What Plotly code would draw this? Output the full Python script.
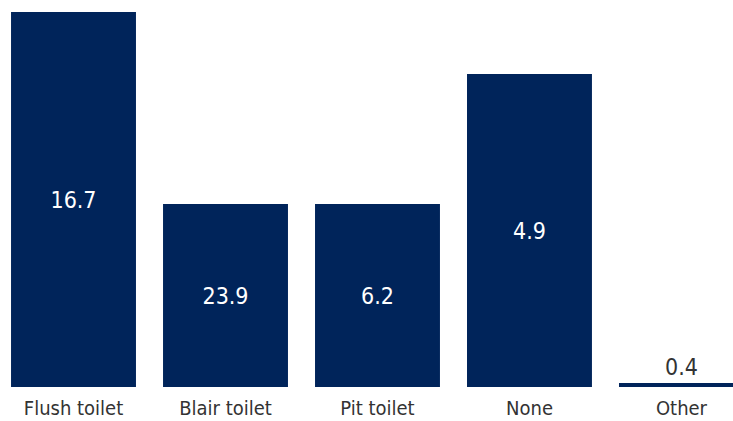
import plotly.graph_objects as go

# Share of households by toilet facility type (%)
categories = ["Flush toilet", "Blair toilet", "Pit toilet", "None", "Other"]
shares = [37.5, 18.3, 18.3, 31.3, 0.4]
bar_labels = ["16.7", "23.9", "6.2", "4.9", "0.4"]

BAR_COLOR = "#00245a"
FONT = "DejaVu Sans Condensed, Liberation Sans Narrow, Arial Narrow, sans-serif"

x_pos = list(range(len(categories)))

fig = go.Figure(
    go.Bar(
        x=x_pos,
        y=shares,
        width=0.822,
        marker=dict(color=BAR_COLOR, line=dict(width=0)),
        text=bar_labels,
        textposition=["inside"] * 4 + ["outside"],
        insidetextanchor="middle",
        textangle=0,
        insidetextfont=dict(color="white", size=23, family=FONT),
        outsidetextfont=dict(color="#333333", size=23, family=FONT),
        cliponaxis=False,
        hoverinfo="skip",
    )
)

fig.update_layout(
    width=733,
    height=421,
    margin=dict(l=0, r=0, t=0, b=34, autoexpand=False),
    paper_bgcolor="white",
    plot_bgcolor="white",
    showlegend=False,
    uniformtext=dict(mode=False),
    xaxis=dict(
        range=[-0.4836, 4.339],
        tickvals=x_pos,
        ticktext=categories,
        tickfont=dict(size=20, color="#333333", family=FONT),
        showgrid=False,
        zeroline=False,
        showline=False,
        ticks="outside",
        ticklen=3,
        tickcolor="rgba(0,0,0,0)",
        automargin=False,
        fixedrange=True,
    ),
    yaxis=dict(
        range=[0, 38.7],
        visible=False,
        showgrid=False,
        zeroline=False,
        automargin=False,
        fixedrange=True,
    ),
)

fig.write_html("out.html")
